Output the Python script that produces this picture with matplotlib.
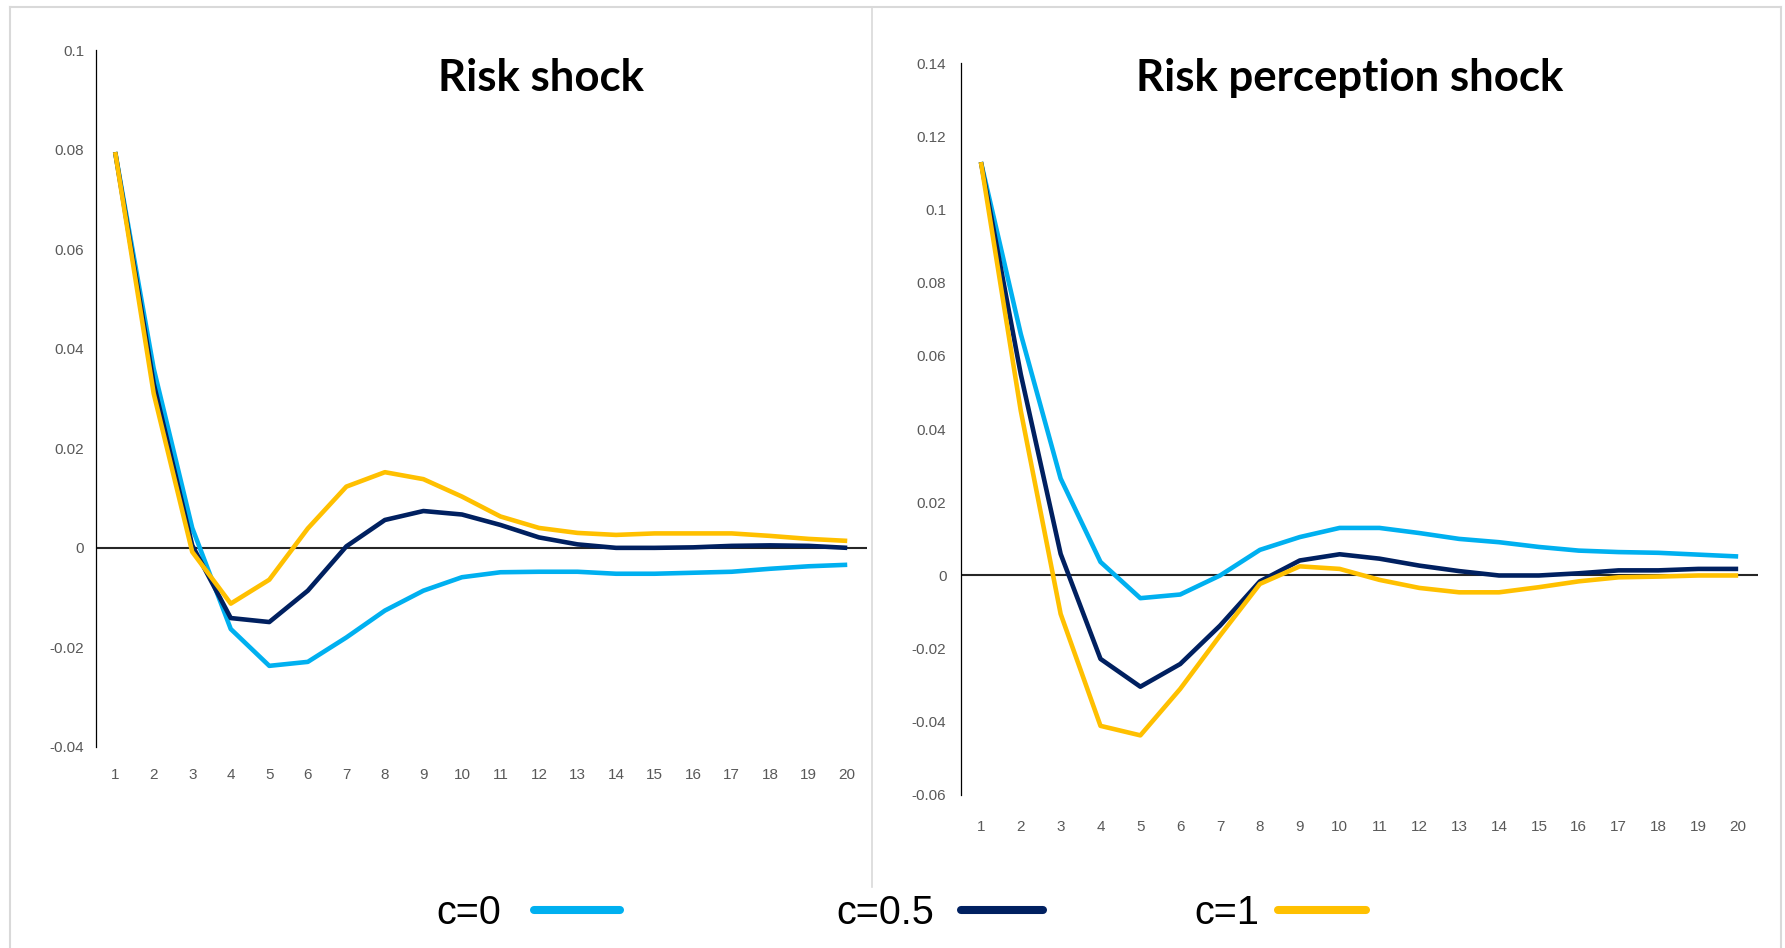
import matplotlib
matplotlib.use("Agg")
import matplotlib.pyplot as plt
from matplotlib.lines import Line2D
from matplotlib.font_manager import FontProperties

# ---------------- data ----------------
periods = list(range(1, 21))
series_labels = ["c=0", "c=0.5", "c=1"]

# Risk shock
risk_c0 = [0.0795, 0.036, 0.004, -0.0163, -0.0237, -0.0229, -0.018, -0.0126, -0.0086, -0.0059,
           -0.0049, -0.0048, -0.0048, -0.0052, -0.0052, -0.005, -0.0048, -0.0042, -0.0037, -0.0034]
risk_c05 = [0.0795, 0.033, 0.0005, -0.0141, -0.0149, -0.0086, 0.0003, 0.0056, 0.0074, 0.0067,
            0.0046, 0.0021, 0.0007, 0.0, 0.0, 0.0001, 0.0004, 0.0005, 0.0004, 0.0]
risk_c1 = [0.0795, 0.031, -0.0008, -0.0112, -0.0064, 0.0039, 0.0123, 0.0152, 0.0138, 0.0103,
           0.0063, 0.004, 0.003, 0.0026, 0.0029, 0.0029, 0.0029, 0.0024, 0.0018, 0.0014]

# Risk perception shock
perc_c0 = [0.113, 0.066, 0.0265, 0.0037, -0.0062, -0.0052, 0.0, 0.007, 0.0105, 0.013,
           0.013, 0.0116, 0.01, 0.0091, 0.0078, 0.0068, 0.0064, 0.0062, 0.0057, 0.0052]
perc_c05 = [0.113, 0.055, 0.0059, -0.0228, -0.0304, -0.0242, -0.0137, -0.0016, 0.0041, 0.0058,
            0.0046, 0.0027, 0.0012, 0.0, 0.0, 0.0006, 0.0014, 0.0014, 0.0018, 0.0018]
perc_c1 = [0.113, 0.045, -0.0105, -0.0411, -0.0437, -0.031, -0.0164, -0.0023, 0.0025, 0.0018,
           -0.0012, -0.0034, -0.0046, -0.0046, -0.0032, -0.0016, -0.0005, -0.0003, 0.0, 0.0]

left_yticks = [0.1, 0.08, 0.06, 0.04, 0.02, 0.0, -0.02, -0.04]
left_yticklabels = ["0.1", "0.08", "0.06", "0.04", "0.02", "0", "-0.02", "-0.04"]
right_yticks = [0.14, 0.12, 0.1, 0.08, 0.06, 0.04, 0.02, 0.0, -0.02, -0.04, -0.06]
right_yticklabels = ["0.14", "0.12", "0.1", "0.08", "0.06", "0.04", "0.02", "0",
                     "-0.02", "-0.04", "-0.06"]
xticklabels = [str(p) for p in periods]

titles = ["Risk shock", "Risk perception shock"]

# ---------------- style ----------------
W, H = 1785, 948
colors = ["#00B0F0", "#002060", "#FFC000"]
tick_font = ["Liberation Sans Narrow", "Liberation Sans", "DejaVu Sans"]
tick_color = "#595959"

fig = plt.figure(figsize=(W / 100, H / 100), dpi=100)
fig.patch.set_facecolor("white")

ax1 = fig.add_axes([95.9 / W, 1 - 747 / H, (866.5 - 95.9) / W, (747 - 50) / H])
ax2 = fig.add_axes([961 / W, 1 - 795 / H, (1758.1 - 961) / W, (795 - 63.3) / H])


def style_axes(ax, ylim, yticks, yticklabels, ypad, xpad):
    ax.set_xlim(0.5, 20.5)
    ax.set_ylim(*ylim)
    ax.axhline(0, color="#262626", lw=1.5, zorder=1)
    for s in ["top", "right", "bottom"]:
        ax.spines[s].set_visible(False)
    ax.spines["left"].set_color("#000000")
    ax.spines["left"].set_linewidth(0.9)
    ax.set_xticks(periods)
    ax.set_xticklabels(xticklabels, family=tick_font, fontsize=11, color=tick_color)
    ax.set_yticks(yticks)
    ax.set_yticklabels(yticklabels, family=tick_font, fontsize=11, color=tick_color)
    ax.tick_params(axis="both", length=0)
    ax.tick_params(axis="y", pad=ypad)
    ax.tick_params(axis="x", pad=xpad)
    ax.set_facecolor("none")


lines = []
for ax, data in [(ax1, [risk_c0, risk_c05, risk_c1]), (ax2, [perc_c0, perc_c05, perc_c1])]:
    for vals, col, lab in zip(data, colors, series_labels):
        ln, = ax.plot(periods, vals, color=col, lw=3.3, label=lab, zorder=3,
                      solid_joinstyle="round", solid_capstyle="butt")
        if ax is ax1:
            lines.append(ln)

style_axes(ax1, (-0.04, 0.1), left_yticks, left_yticklabels, 8.5, 15)
style_axes(ax2, (-0.06, 0.14), right_yticks, right_yticklabels, 10.5, 18)

# ---------------- titles ----------------
title_font = ["Lato", "Open Sans", "DejaVu Sans"]
t1 = fig.text(540.5 / W, 1 - 91 / H, titles[0], family=title_font, fontweight="bold",
              fontsize=33, ha="center", va="baseline", color="black")
t2 = fig.text(1349.5 / W, 1 - 91 / H, titles[1], family=title_font, fontweight="bold",
              fontsize=33, ha="center", va="baseline", color="black")
fig.canvas.draw()
r = fig.canvas.get_renderer()
w_now = t1.get_window_extent(r).width + t2.get_window_extent(r).width
scale = (205 + 429) / w_now
for t in (t1, t2):
    t.set_fontsize(33 * scale)

# ---------------- legend (three single-entry legends) ----------------
leg_x = [436, 836, 1194]
leg_handlelen = [2.17, 2.07, 2.22]
leg_textpad = [0.83, 0.68, 0.48]
leg_prop = FontProperties(family=["Liberation Sans", "DejaVu Sans"], size=28.5)
for ln, lab, x0, hl, tp in zip(lines, series_labels, leg_x, leg_handlelen, leg_textpad):
    lg = fig.legend([ln], [lab], loc="center left", bbox_to_anchor=(x0 / W, 1 - 913 / H),
                    markerfirst=False, frameon=False, borderpad=0, borderaxespad=0,
                    handlelength=hl, handletextpad=tp, prop=leg_prop)
    for l in lg.get_lines():
        l.set_linewidth(5.8)
        l.set_solid_capstyle("round")

# ---------------- frame decorations ----------------
frame_col = "#d9d9d9"
fig.add_artist(Line2D([9.5 / W, 1781 / W], [1 - 7 / H, 1 - 7 / H], transform=fig.transFigure,
                      color=frame_col, lw=1.5))
fig.add_artist(Line2D([9.5 / W, 9.5 / W], [0, 1 - 7 / H], transform=fig.transFigure,
                      color=frame_col, lw=1.5))
fig.add_artist(Line2D([1781 / W, 1781 / W], [0, 1 - 7 / H], transform=fig.transFigure,
                      color=frame_col, lw=1.5))
fig.add_artist(Line2D([872 / W, 872 / W], [1 - 887 / H, 1 - 7 / H], transform=fig.transFigure,
                      color=frame_col, lw=1.2))

fig.savefig("out.png", dpi=100, facecolor="white")
